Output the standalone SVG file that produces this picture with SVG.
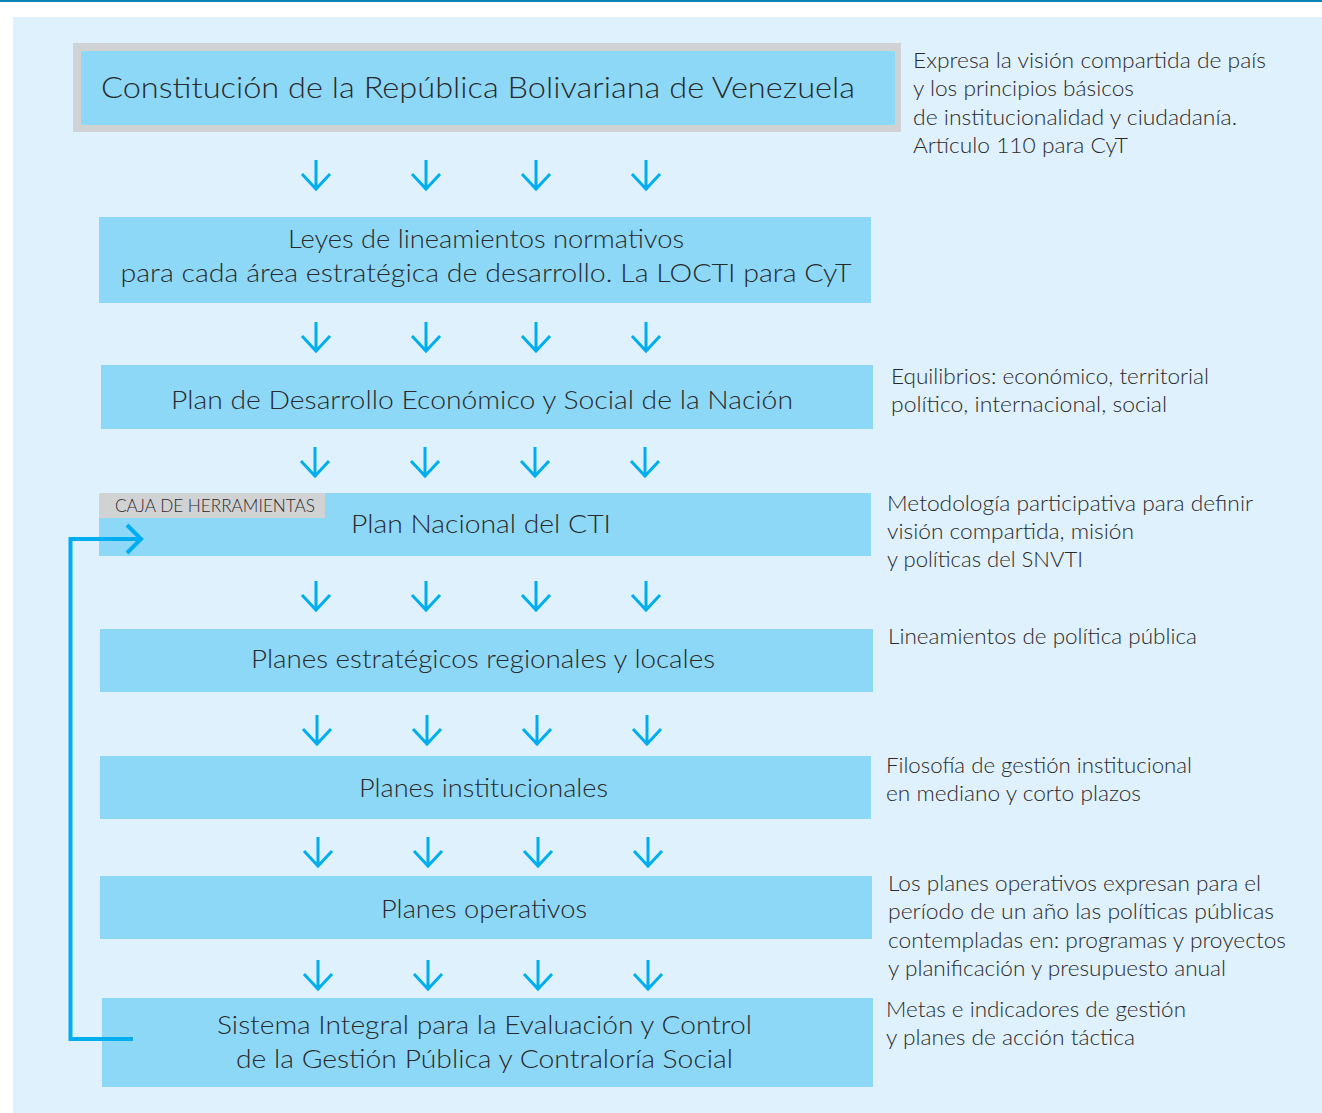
<svg xmlns="http://www.w3.org/2000/svg" width="1322" height="1113" viewBox="0 0 1322 1113">
<defs>
<style>
.box{fill:#8dd8f6}
.t{font-family:Lato,"Liberation Sans",sans-serif;font-weight:300;fill:#2a2a2c;text-anchor:middle}
.big{font-size:25px}
.note{font-family:Lato,"Liberation Sans",sans-serif;font-weight:300;fill:#2a2a2c;font-size:21px}
.arr{fill:none;stroke:#00aeef;stroke-width:3}
.con{fill:none;stroke:#00aeef;stroke-width:4}
</style>
<g id="a"><path class="arr" d="M0 0V30M-14 14L0 29L14 14"/></g>
</defs>
<rect x="0" y="0" width="1322" height="1113" fill="#ffffff"/>
<rect x="0" y="0" width="1322" height="2" fill="#0b84b5"/>
<rect x="13" y="17" width="1309" height="1096" fill="#dff1fc"/>

<g id="n1">
<rect x="73" y="43" width="828" height="89" fill="#d1d2d4"/>
<rect x="81" y="51" width="814" height="74" class="box"/>
<text x="101" y="98" class="t" style="text-anchor:start;font-size:30px" textLength="754" lengthAdjust="spacingAndGlyphs">Constitución de la República Bolivariana de Venezuela</text>
</g>
<g id="n2">
<rect x="99" y="217" width="772" height="86" class="box"/>
<text x="486" y="248" class="t big" textLength="396" lengthAdjust="spacingAndGlyphs">Leyes de lineamientos normativos</text>
<text x="486" y="282" class="t big" textLength="731" lengthAdjust="spacingAndGlyphs">para cada área estratégica de desarrollo. La LOCTI para CyT</text>
</g>
<g id="n3">
<rect x="101" y="365" width="772" height="64" class="box"/>
<text x="482" y="409" class="t big" textLength="622" lengthAdjust="spacingAndGlyphs">Plan de Desarrollo Económico y Social de la Nación</text>
</g>
<g id="n4">
<rect x="99" y="493" width="772" height="63" class="box"/>
<rect x="99" y="493" width="226" height="25" fill="#d1d2d4"/>
<text x="115" y="512" class="t" style="text-anchor:start;font-size:17px" textLength="200" lengthAdjust="spacingAndGlyphs">CAJA DE HERRAMIENTAS</text>
<text x="481" y="533" class="t big" textLength="260" lengthAdjust="spacingAndGlyphs">Plan Nacional del CTI</text>
</g>
<g id="n5">
<rect x="100" y="629" width="773" height="63" class="box"/>
<text x="483" y="668" class="t big" textLength="464" lengthAdjust="spacingAndGlyphs">Planes estratégicos regionales y locales</text>
</g>
<g id="n6">
<rect x="100" y="756" width="771" height="63" class="box"/>
<text x="483.5" y="797" class="t big" textLength="249" lengthAdjust="spacingAndGlyphs">Planes institucionales</text>
</g>
<g id="n7">
<rect x="100" y="876" width="772" height="63" class="box"/>
<text x="484" y="918" class="t big" textLength="206" lengthAdjust="spacingAndGlyphs">Planes operativos</text>
</g>
<g id="n8">
<rect x="102" y="998" width="771" height="89" class="box"/>
<text x="484.5" y="1034" class="t big" textLength="535" lengthAdjust="spacingAndGlyphs">Sistema Integral para la Evaluación y Control</text>
<text x="484.5" y="1068" class="t big" textLength="497" lengthAdjust="spacingAndGlyphs">de la Gestión Pública y Contraloría Social</text>
</g>

<g id="notes">
<text class="note" x="913" y="68" textLength="353" lengthAdjust="spacingAndGlyphs">Expresa la visión compartida de país</text>
<text class="note" x="913" y="96" textLength="221" lengthAdjust="spacingAndGlyphs">y los principios básicos</text>
<text class="note" x="913" y="125" textLength="324" lengthAdjust="spacingAndGlyphs">de institucionalidad y ciudadanía.</text>
<text class="note" x="913" y="153" textLength="215" lengthAdjust="spacingAndGlyphs">Artículo 110 para CyT</text>
<text class="note" x="891" y="384" textLength="318" lengthAdjust="spacingAndGlyphs">Equilibrios: económico, territorial</text>
<text class="note" x="891" y="412" textLength="276" lengthAdjust="spacingAndGlyphs">político, internacional, social</text>
<text class="note" x="887" y="511" textLength="366" lengthAdjust="spacingAndGlyphs">Metodología participativa para definir</text>
<text class="note" x="887" y="539" textLength="247" lengthAdjust="spacingAndGlyphs">visión compartida, misión</text>
<text class="note" x="887" y="567" textLength="196" lengthAdjust="spacingAndGlyphs">y políticas del SNVTI</text>
<text class="note" x="888" y="644" textLength="309" lengthAdjust="spacingAndGlyphs">Lineamientos de política pública</text>
<text class="note" x="886" y="773" textLength="306" lengthAdjust="spacingAndGlyphs">Filosofía de gestión institucional</text>
<text class="note" x="886" y="801" textLength="255" lengthAdjust="spacingAndGlyphs">en mediano y corto plazos</text>
<text class="note" x="888" y="891" textLength="373" lengthAdjust="spacingAndGlyphs">Los planes operativos expresan para el</text>
<text class="note" x="888" y="919" textLength="386" lengthAdjust="spacingAndGlyphs">período de un año las políticas públicas</text>
<text class="note" x="888" y="948" textLength="398" lengthAdjust="spacingAndGlyphs">contempladas en: programas y proyectos</text>
<text class="note" x="888" y="976" textLength="338" lengthAdjust="spacingAndGlyphs">y planificación y presupuesto anual</text>
<text class="note" x="886" y="1017" textLength="300" lengthAdjust="spacingAndGlyphs">Metas e indicadores de gestión</text>
<text class="note" x="886" y="1045" textLength="249" lengthAdjust="spacingAndGlyphs">y planes de acción táctica</text>
</g>

<g id="connectors">
<use href="#a" x="316" y="160"/><use href="#a" x="426" y="160"/><use href="#a" x="536" y="160"/><use href="#a" x="646" y="160"/>
<use href="#a" x="316" y="322"/><use href="#a" x="426" y="322"/><use href="#a" x="536" y="322"/><use href="#a" x="646" y="322"/>
<use href="#a" x="315" y="447"/><use href="#a" x="425" y="447"/><use href="#a" x="535" y="447"/><use href="#a" x="645" y="447"/>
<use href="#a" x="316" y="581"/><use href="#a" x="426" y="581"/><use href="#a" x="536" y="581"/><use href="#a" x="646" y="581"/>
<use href="#a" x="317" y="715"/><use href="#a" x="427" y="715"/><use href="#a" x="537" y="715"/><use href="#a" x="647" y="715"/>
<use href="#a" x="318" y="837"/><use href="#a" x="428" y="837"/><use href="#a" x="538" y="837"/><use href="#a" x="648" y="837"/>
<use href="#a" x="318" y="960"/><use href="#a" x="428" y="960"/><use href="#a" x="538" y="960"/><use href="#a" x="648" y="960"/>
<path class="con" d="M133 1039H70.5V539H140"/>
<path class="con" d="M127 525L141 539L127 553"/>
</g>
</svg>
